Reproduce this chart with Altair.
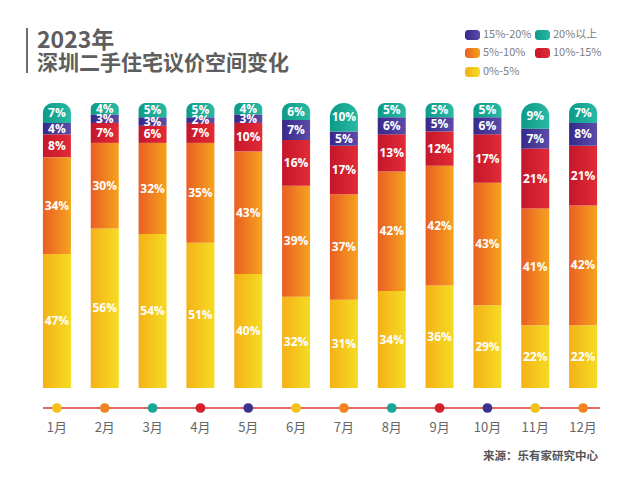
import altair as alt
import pandas as pd

months = ["1月", "2月", "3月", "4月", "5月", "6月", "7月", "8月", "9月", "10月", "11月", "12月"]
categories = ["0%-5%", "5%-10%", "10%-15%", "15%-20%", "20%以上"]
share_0_5 = [47, 56, 54, 51, 40, 32, 31, 34, 36, 29, 22, 22]
share_5_10 = [34, 30, 32, 35, 43, 39, 37, 42, 42, 43, 41, 42]
share_10_15 = [8, 7, 6, 7, 10, 16, 17, 13, 12, 17, 21, 21]
share_15_20 = [4, 3, 3, 2, 3, 7, 5, 6, 5, 6, 7, 8]
share_20_up = [7, 4, 5, 5, 4, 6, 10, 5, 5, 5, 9, 7]
dot_category = ["0%-5%", "5%-10%", "20%以上", "10%-15%", "15%-20%",
                "0%-5%", "5%-10%", "20%以上", "10%-15%", "15%-20%",
                "0%-5%", "5%-10%"]
legend_order = ["15%-20%", "20%以上", "5%-10%", "10%-15%", "0%-5%"]

title_1 = "2023年"
title_2 = "深圳二手住宅议价空间变化"
source_text = "来源：乐有家研究中心"

# gradient stops (left -> right) per category
grad_colors = {
    "0%-5%": ("#f4b118", "#f5dc22"),
    "5%-10%": ("#ea5e24", "#f5a31d"),
    "10%-15%": ("#c4172a", "#e22b37"),
    "15%-20%": ("#36298a", "#5c4ca8"),
    "20%以上": ("#0d9a88", "#2ab9a3"),
}
solid_colors = ["#f5c21a", "#f08424", "#d41f2e", "#3d3290", "#17a794"]

series = [share_0_5, share_5_10, share_10_15, share_15_20, share_20_up]
rows = []
for ci, (cat, vals) in enumerate(zip(categories, series)):
    for m, v in zip(months, vals):
        rows.append({"month": m, "cat": cat, "order": ci, "value": v})
df = pd.DataFrame(rows)

dots_df = pd.DataFrame({"month": months, "dot_cat": dot_category})
one = pd.DataFrame({"k": [0]})

def grad(cat):
    a, b = grad_colors[cat]
    return alt.Gradient(
        gradient="linear", x1=0, x2=1, y1=0, y2=0,
        stops=[alt.GradientStop(color=a, offset=0), alt.GradientStop(color=b, offset=1)],
    )

x_enc = alt.X(
    "month:N", sort=months,
    scale=alt.Scale(paddingInner=0.4, paddingOuter=0.2),
    axis=alt.Axis(title=None, domain=False, ticks=False, tickSize=0, grid=False,
                  labelAngle=0, labelPadding=33, labelFontSize=13,
                  labelColor="#666666", labelFont="Noto Sans CJK SC"),
)
y_scale = alt.Scale(domain=[0, 100], nice=False, zero=True)

base = alt.Chart(df).transform_stack(
    stack="value", groupby=["month"], as_=["y0", "y1"],
    sort=[alt.SortField("order", "ascending")],
)

layers = []
for cat in categories:
    extra = {}
    if cat == "20%以上":
        extra = dict(cornerRadiusTopLeft=14, cornerRadiusTopRight=14)
    layers.append(
        base.transform_filter(alt.datum.cat == cat)
        .mark_bar(fill=grad(cat), size=28, **extra)
        .encode(x=x_enc, y=alt.Y("y0:Q", scale=y_scale, axis=None), y2="y1:Q")
    )

labels = base.transform_calculate(
    mid="(datum.y0 + datum.y1) / 2", lab="datum.value + '%'"
).mark_text(
    color="white", fontWeight="bold", fontSize=12, font="Open Sans", baseline="middle"
).encode(x=alt.X("month:N", sort=months), y=alt.Y("mid:Q", scale=y_scale), text="lab:N")

line = alt.Chart(one).mark_rule(color="#e06a66", strokeWidth=2).encode(
    x=alt.value(10), x2=alt.value(567), y=alt.value(305)
)
dots = alt.Chart(dots_df).mark_circle(size=95, opacity=1).encode(
    x=alt.X("month:N", sort=months),
    y=alt.value(305),
    color=alt.Color("dot_cat:N", scale=alt.Scale(domain=categories, range=solid_colors), legend=None),
)

bar_deco = alt.Chart(one).mark_rule(color="#6e6e6e", strokeWidth=2).encode(
    x=alt.value(-6), y=alt.value(-75), y2=alt.value(-30)
)
t1 = alt.Chart(one).mark_text(
    text=title_1, align="left", baseline="alphabetic", fontSize=23, fontWeight="bold",
    font="Noto Sans CJK SC", color="#5e5e5e"
).encode(x=alt.value(4), y=alt.value(-55))
t2 = alt.Chart(one).mark_text(
    text=title_2, align="left", baseline="alphabetic", fontSize=21, fontWeight="bold",
    font="Noto Sans CJK SC", color="#5e5e5e"
).encode(x=alt.value(4), y=alt.value(-33))
src = alt.Chart(one).mark_text(
    text=source_text, align="right", baseline="middle", fontSize=11.5, fontWeight="bold",
    font="Noto Sans CJK SC", color="#555555"
).encode(x=alt.value(565), y=alt.value(354))

legend_layers = []
col_x = [432, 502]
row_y = [-68, -50, -31]
for i, cat in enumerate(legend_order):
    cx = col_x[i % 2]
    cy = row_y[i // 2]
    legend_layers.append(
        alt.Chart(one).mark_rect(fill=grad(cat), cornerRadius=3).encode(
            x=alt.value(cx), x2=alt.value(cx + 15), y=alt.value(cy - 5), y2=alt.value(cy + 5)
        )
    )
    legend_layers.append(
        alt.Chart(one).mark_text(
            text=cat, align="left", baseline="middle", fontSize=11,
            font="Noto Sans CJK SC", color="#808080"
        ).encode(x=alt.value(cx + 18), y=alt.value(cy))
    )

chart = alt.layer(
    *layers, labels, line, dots, bar_deco, t1, t2, src, *legend_layers
).properties(
    width=574, height=285,
    padding={"left": 25, "top": 95, "right": 25, "bottom": 82},
    autosize=alt.AutoSizeParams(type="none"),
    background="white",
).configure_view(stroke=None)

chart.save("out.html", embed_options={"renderer": "svg", "actions": False})
